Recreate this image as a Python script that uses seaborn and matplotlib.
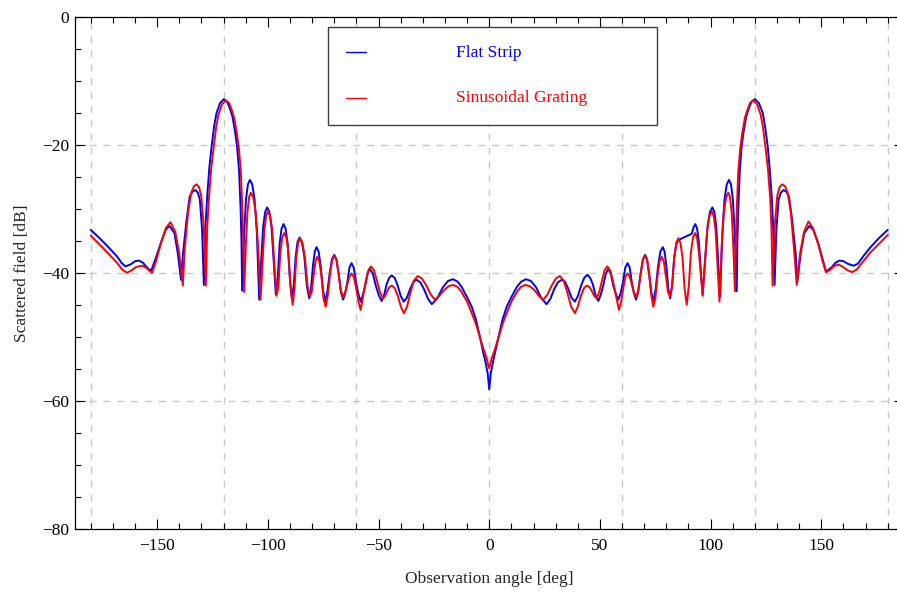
import matplotlib
matplotlib.use("Agg")
import matplotlib.pyplot as plt
from matplotlib.ticker import MultipleLocator
from matplotlib.patches import Rectangle
import pandas as pd
import seaborn as sns

# ---------------- data ----------------
series_names = ["Flat Strip", "Sinusoidal Grating"]
series_colors = ["#0000FF", "#FF0000"]

blue_angle = [
    -180, -176, -172, -168, -166, -164.3, -162, -160, -158.3, -156.5, -154.5, -152.7,
    -150.7, -148.5, -146.2, -144.4, -142.2, -140.7, -139.2,
    -138.3, -136.7, -135.3, -134.0, -132.7, -131.6, -130.7, -129.7, -128.9,
    -128.2, -127.4, -126.4, -125.4, -124.3, -123.2, -121.6, -119.9, -118.4, -117.2, -116.0, -114.8, -113.9, -113.0, -112.3, -111.9, -111.6,
    -110.7, -109.85, -109.0, -108.1, -107.05, -106.0, -104.95, -103.9,
    -103.0, -102.1, -101.2, -100.3, -99.3, -98.35, -97.4, -96.4,
    -95.5, -94.65, -93.8, -92.9, -92.0, -91.05, -90.1, -89.2,
    -88.3, -87.45, -86.6, -85.7, -84.6, -83.5, -82.4, -81.3,
    -80.5, -79.65, -78.8, -78.0, -77.05, -76.1, -75.15, -74.2,
    -73.15, -72.1, -71.05, -70.0, -69.0, -68.0, -67.0, -66.0,
    -65.05, -64.1, -63.15, -62.2, -61.2, -60.15, -59.1, -58.1,
    -57.05, -56.0, -54.95, -53.9, -52.6, -51.25, -49.9, -48.6,
    -47.5, -46.35, -45.2, -44.1, -42.7, -41.35, -40.0, -38.6,
    -37.2, -35.7, -34.2, -32.8, -31.1, -29.4, -27.6, -25.9,
    -23.5, -21.0, -18.7, -16.4, -14.2, -12.5, -10.0, -7.9, -6.0, -4.2, -2.5, -1.9, -0.7, 0,
    0.7, 1.9, 4.2, 6.0, 7.9, 10.0, 12.5, 14.4, 16.6, 18.9, 21.2, 23.6, 25.9,
    27.6, 29.3, 31.0, 32.7, 34.2, 35.7, 37.2, 38.7,
    40.1, 41.5, 42.9, 44.3, 45.6, 46.8, 48.0, 49.3,
    50.4, 51.5, 52.7, 53.8, 54.9, 56.0, 57.2, 58.3,
    59.35, 60.4, 61.45, 62.5, 63.45, 64.4, 65.35, 66.3,
    67.3, 68.35, 69.4, 70.4, 71.3, 72.25, 73.2, 74.1,
    75.2, 76.25, 77.3, 78.4, 79.2, 80.05, 80.9, 81.7,
    82.6, 83.5, 84.45, 85.4, 91.5, 92.3, 93.1, 93.9, 94.75, 95.6, 96.4,
    97.5, 98.6, 99.7, 100.8, 101.7, 102.55, 103.4, 104.3,
    105.3, 106.3, 107.3, 108.3, 109.2, 110.05, 110.9, 111.8,
    112.1, 112.5, 113.2, 114.0, 114.9, 116.1, 117.3, 118.5, 120.0, 121.8, 123.6, 124.7, 125.8, 126.7, 127.6, 128.3, 128.9,
    129.7, 130.7, 131.7, 132.9, 134.1, 135.4, 136.8, 138.4, 139.2,
    140.7, 142.3, 144.6, 146.4, 148.7, 150.5, 152.1,
    154.5, 156.5, 158.2, 160.0, 162.0, 164.5, 166.5, 169, 172, 176, 180,
]
blue_db = [
    -33.3, -34.6, -36.0, -37.5, -38.5, -39.0, -38.7, -38.2, -38.1, -38.4, -39.2, -39.7,
    -37.8, -35.5, -33.3, -32.7, -33.8, -36.9, -41.1,
    -36.9, -31.7, -28.1, -27.3, -27.1, -27.5, -28.6, -33.3, -41.9,
    -33.0, -28.1, -23.5, -20.3, -17.2, -15.1, -13.5, -12.9, -13.3, -14.3, -15.6, -18.0, -20.3, -24.0, -30.0, -35.0, -42.8,
    -33.8, -28.5, -26.2, -25.5, -26.2, -28.5, -33.8, -44.2,
    -38.1, -32.8, -30.5, -29.8, -30.5, -32.8, -38.1, -43.4,
    -40.7, -35.4, -33.1, -32.4, -33.1, -35.4, -40.7, -44.0,
    -42.0, -37.5, -35.2, -34.5, -35.2, -37.5, -42.0, -44.0,
    -42.5, -39.0, -36.7, -36.0, -36.7, -39.0, -42.5, -44.5,
    -43.0, -40.2, -37.9, -37.2, -37.9, -40.2, -43.0, -44.2,
    -43.2, -41.5, -39.2, -38.5, -39.2, -41.5, -43.3, -44.5,
    -43.4, -42.0, -40.1, -39.4, -40.1, -42.0, -43.5, -44.4,
    -43.5, -41.8, -40.8, -40.4, -40.8, -42.0, -43.6, -44.5,
    -43.9, -42.5, -41.4, -41.1, -41.5, -42.6, -44.1, -44.9,
    -44.0, -42.3, -41.3, -41.0, -41.4, -42.2, -43.8, -45.3, -47.3, -50.0, -52.8, -53.6, -55.7, -58.2,
    -55.7, -53.6, -50.0, -47.3, -45.3, -43.8, -42.2, -41.4, -41.0, -41.3, -42.3, -44.0, -44.9,
    -44.1, -42.6, -41.5, -41.1, -41.4, -42.5, -43.9, -44.5,
    -43.6, -42.0, -40.8, -40.3, -40.8, -41.8, -43.5, -44.4,
    -43.4, -42.0, -40.1, -39.4, -40.1, -42.0, -43.3, -44.2,
    -43.2, -41.5, -39.2, -38.5, -39.2, -41.5, -43.2, -44.2,
    -43.0, -40.2, -37.9, -37.2, -37.9, -40.2, -43.0, -44.5,
    -42.5, -39.0, -36.7, -36.0, -36.7, -39.0, -42.5, -44.0,
    -42.0, -37.8, -35.6, -34.9, -33.9, -32.9, -32.4, -33.1, -35.4, -40.0, -43.4,
    -38.1, -32.8, -30.5, -29.8, -30.5, -32.8, -38.1, -43.7,
    -33.8, -28.5, -26.2, -25.5, -26.2, -28.5, -33.8, -42.9,
    -35.0, -30.0, -24.0, -20.3, -18.0, -15.6, -14.3, -13.3, -12.9, -13.5, -15.1, -17.4, -20.3, -23.8, -28.1, -33.0, -41.9,
    -33.3, -28.6, -27.5, -27.1, -27.3, -28.1, -31.7, -36.9, -41.4,
    -36.9, -33.8, -32.7, -33.3, -35.5, -37.8, -39.8,
    -39.2, -38.4, -38.1, -38.2, -38.6, -38.9, -38.6, -37.4, -36.1, -34.6, -33.3,
]

red_angle = [
    -180, -176, -172, -168, -165.8, -163.6, -161.5, -159.5, -156.8, -155, -153.5, -152.3,
    -150.5, -148.3, -146.0, -144.0, -141.8, -140.0, -138.4,
    -137.5, -136.0, -134.6, -133.4, -132.2, -131.1, -130.1, -129.0, -128.0,
    -127.4, -126.6, -125.6, -124.5, -123.4, -122.3, -120.7, -119.0, -117.5, -116.4, -115.2, -114.0, -113.1, -112.2, -111.5, -111.1, -110.7,
    -109.95, -109.2, -108.45, -107.7, -106.6, -105.5, -104.4, -103.3,
    -102.45, -101.6, -100.75, -99.9, -98.95, -98.0, -97.05, -96.1,
    -95.2, -94.35, -93.5, -92.6, -91.65, -90.7, -89.75, -88.8,
    -87.95, -87.15, -86.3, -85.5, -84.4, -83.25, -82.1, -81.0,
    -80.2, -79.35, -78.5, -77.7, -76.75, -75.8, -74.85, -73.9,
    -72.9, -71.95, -70.95, -70.0, -69.0, -68.0, -67.0, -66.0,
    -65.05, -64.1, -63.15, -62.2, -61.2, -60.15, -59.1, -58.1,
    -56.9, -55.75, -54.6, -53.4, -52.05, -50.7, -49.35, -48.0,
    -47.0, -46.0, -45.0, -44.0, -42.7, -41.3, -39.9, -38.6,
    -37.1, -35.6, -34.0, -32.3, -30.4, -28.4, -26.4, -24.5,
    -22.5, -20.4, -18.3, -16.3, -14.3, -12.5, -10.0, -7.9, -6.0, -4.2, -2.5, -1.2, -0.5, 0,
    0.5, 1.2, 2.5, 4.2, 6.0, 7.9, 10.0, 12.5, 14.3, 16.3, 18.3, 20.4, 22.4, 24.4,
    26.3, 28.2, 30.1, 31.9, 33.6, 35.3, 37.0, 38.7,
    40.0, 41.4, 42.8, 44.1, 45.2, 46.3, 47.4, 48.5,
    49.7, 50.9, 52.1, 53.3, 54.6, 55.9, 57.2, 58.6,
    59.6, 60.6, 61.55, 62.5, 63.45, 64.4, 65.35, 66.3,
    67.3, 68.35, 69.4, 70.4, 71.3, 72.25, 73.2, 74.1,
    75.05, 76.0, 76.95, 77.9, 78.85, 79.8, 80.75, 81.7,
    82.65, 83.6, 84.5, 85.4, 86.35, 87.3, 88.25, 89.2,
    90.15, 91.1, 92.05, 93.0, 93.85, 94.7, 95.55, 96.4,
    97.4, 98.45, 99.5, 100.5, 101.4, 102.25, 103.1, 104.0,
    105.0, 106.0, 107.0, 108.0, 108.75, 109.5, 110.25, 111.0,
    111.4, 111.8, 112.5, 113.4, 114.3, 115.5, 116.7, 117.8, 119.3, 121.0, 122.6, 123.7, 124.8, 125.9, 126.9, 127.5, 128.0,
    129.0, 130.1, 131.2, 132.4, 133.6, 134.8, 136.2, 137.6, 138.9,
    140.4, 142.2, 144.2, 146.2, 148.5, 150.6, 152.1,
    153.8, 155.5, 157.7, 159.8, 161.8, 163.8, 166.0, 168.5, 172, 176, 180,
]
red_db = [
    -34.2, -35.6, -37.0, -38.5, -39.5, -40.0, -39.6, -39.1, -38.9, -39.2, -39.7, -40.0,
    -38.2, -35.4, -33.0, -32.1, -33.6, -37.0, -42.0,
    -36.0, -30.5, -27.5, -26.5, -26.2, -26.6, -28.0, -32.5, -42.0,
    -33.0, -28.3, -23.8, -20.5, -17.4, -15.3, -13.7, -13.1, -13.5, -14.5, -15.8, -18.2, -20.5, -24.2, -30.2, -35.2, -43.0,
    -35.8, -30.5, -28.2, -27.5, -28.2, -30.5, -35.8, -44.2,
    -38.7, -33.4, -31.1, -30.4, -31.1, -33.4, -38.7, -43.6,
    -42.1, -36.8, -34.5, -33.8, -34.5, -36.8, -42.1, -45.0,
    -42.5, -37.6, -35.3, -34.6, -35.3, -37.6, -42.0, -43.7,
    -43.0, -40.5, -38.2, -37.5, -38.2, -40.5, -44.0, -45.3,
    -43.5, -40.3, -38.0, -37.3, -38.0, -40.3, -42.8, -43.8,
    -43.0, -41.8, -40.6, -40.1, -40.6, -42.3, -44.5, -45.8,
    -43.5, -41.3, -39.6, -39.0, -39.6, -41.3, -43.0, -44.0,
    -43.6, -42.8, -42.2, -42.0, -42.4, -43.6, -45.3, -46.3,
    -45.3, -43.1, -41.2, -40.5, -40.9, -42.0, -43.4, -44.2,
    -43.6, -42.7, -42.1, -41.9, -42.2, -43.0, -44.5, -46.3, -48.0, -50.1, -52.0, -53.3, -54.3, -54.9,
    -54.3, -53.3, -52.0, -50.1, -48.0, -46.3, -44.5, -43.0, -42.2, -41.9, -42.1, -42.7, -43.6, -44.2,
    -43.4, -42.0, -40.9, -40.5, -41.2, -43.1, -45.3, -46.3,
    -45.3, -43.6, -42.4, -42.0, -42.2, -42.8, -43.6, -44.0,
    -43.0, -41.3, -39.6, -39.0, -39.6, -41.3, -43.5, -45.8,
    -44.5, -42.3, -40.6, -40.1, -40.6, -41.8, -43.0, -43.8,
    -42.8, -40.3, -38.0, -37.3, -38.0, -40.3, -43.5, -45.3,
    -44.0, -40.5, -38.2, -37.5, -38.2, -40.5, -43.0, -43.7,
    -42.0, -37.6, -35.3, -34.6, -35.3, -37.6, -42.5, -45.0,
    -42.1, -36.8, -34.5, -33.8, -34.5, -36.8, -40.0, -43.6,
    -38.7, -33.4, -31.1, -30.4, -31.1, -33.4, -38.7, -44.5,
    -35.8, -30.5, -28.2, -27.5, -28.2, -30.5, -35.8, -42.9,
    -35.2, -30.2, -24.2, -20.5, -18.2, -15.8, -14.5, -13.5, -13.1, -13.7, -15.3, -17.4, -20.5, -23.8, -28.3, -33.0, -42.0,
    -32.5, -28.0, -26.6, -26.2, -26.5, -27.5, -30.5, -36.0, -41.9,
    -37.0, -33.6, -32.0, -33.0, -35.4, -38.2, -39.9,
    -39.6, -39.0, -38.7, -39.1, -39.6, -39.9, -39.5, -38.4, -36.9, -35.5, -34.1,
]

x_ticks_major = [-150, -100, -50, 0, 50, 100, 150]
y_ticks_major = [0, -20, -40, -60, -80]
grid_x = [-180, -120, -60, 0, 60, 120, 180]
grid_y = [-20, -40, -60]

# ---------------- build table ----------------
df = pd.concat([
    pd.DataFrame({"angle": blue_angle, "db": blue_db, "series": series_names[0]}),
    pd.DataFrame({"angle": red_angle, "db": red_db, "series": series_names[1]}),
], ignore_index=True)

sns.set_style("ticks")
plt.rcParams["font.family"] = ["Liberation Serif", "DejaVu Serif"]

FS = 12.5

fig = plt.figure(figsize=(8.97, 5.92), dpi=100)
ax = fig.add_axes([0.0833, 0.1064, 0.9242, 0.8657])

for gx in grid_x:
    ax.axvline(gx, color="#c8c8c8", lw=1.0, ls=(0, (5, 5)), zorder=0)
for gy in grid_y:
    ax.axhline(gy, color="#c8c8c8", lw=1.0, ls=(0, (5, 5)), zorder=0)

sns.lineplot(data=df, x="angle", y="db", hue="series", hue_order=series_names,
             palette=dict(zip(series_names, series_colors)), estimator=None,
             sort=False, legend=False, lw=1.4, ax=ax)

ax.set_xlim(-187.23, 187.23)
ax.set_ylim(-80, 0)
ax.set_xticks(x_ticks_major)
ax.set_yticks(y_ticks_major)
ax.xaxis.set_minor_locator(MultipleLocator(10))
ax.yaxis.set_minor_locator(MultipleLocator(5))
ax.tick_params(which="both", direction="in", top=True, right=True, width=0.8,
               labelsize=FS, colors="black")
ax.tick_params(axis="x", which="major", length=7, pad=6.5)
ax.tick_params(axis="x", which="minor", length=4)
ax.tick_params(axis="y", which="major", length=7, pad=4)
ax.tick_params(axis="y", which="minor", length=4)
for sp in ax.spines.values():
    sp.set_linewidth(0.9)
    sp.set_color("black")

ax.set_xlabel("Observation angle [deg]", fontsize=FS, labelpad=12)
ax.set_ylabel("Scattered field [dB]", fontsize=FS, labelpad=9)

# legend box (drawn like the reference's framed legend)
ax.add_patch(Rectangle((0.3052, 0.7877), 0.3969, 0.1912, transform=ax.transAxes,
                       facecolor="white", edgecolor="#404040", lw=1.0, zorder=5))
ax.plot([0.3269, 0.3510], [0.9302, 0.9302], transform=ax.transAxes,
        color=series_colors[0], lw=1.0, zorder=6)
ax.plot([0.3269, 0.3510], [0.8404, 0.8404], transform=ax.transAxes,
        color=series_colors[1], lw=1.0, zorder=6)
ax.text(0.4600, 0.9204, series_names[0], transform=ax.transAxes, color=series_colors[0],
        fontsize=FS, va="baseline", ha="left", zorder=6)
ax.text(0.4600, 0.8332, series_names[1], transform=ax.transAxes, color=series_colors[1],
        fontsize=FS, va="baseline", ha="left", zorder=6)

fig.savefig("out.png", dpi=100)
